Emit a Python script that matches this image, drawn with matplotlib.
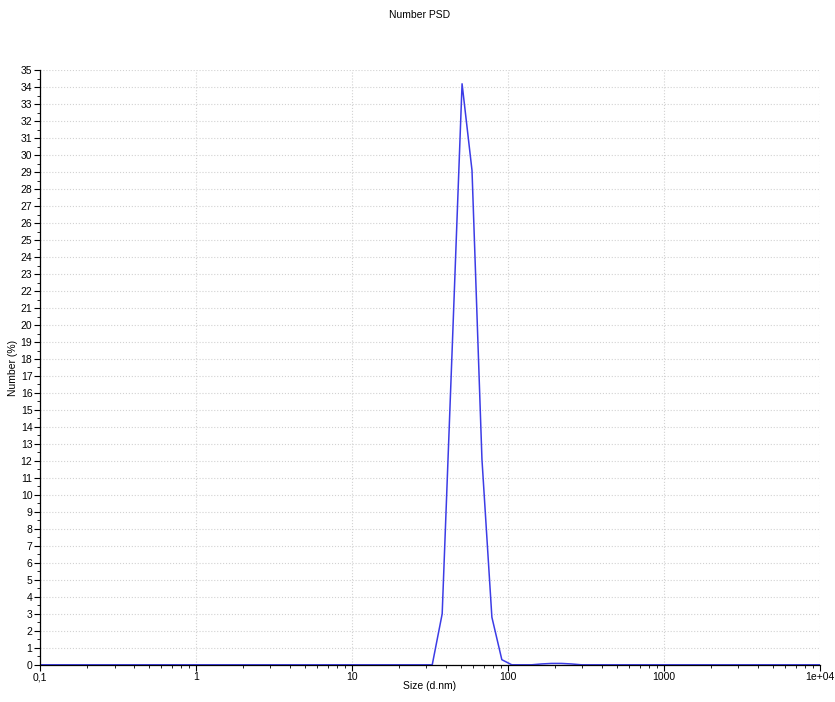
import numpy as np
import matplotlib
matplotlib.use("Agg")
import matplotlib.pyplot as plt
from matplotlib.ticker import FixedLocator, LogLocator, NullFormatter

plt.rcParams['font.family'] = ['Liberation Sans', 'DejaVu Sans']

# Size bins (d.nm) and number distribution (%)
sizes = [0.1, 30.0, 32.67, 37.84, 43.82, 50.75, 58.77, 68.06, 78.82, 91.28, 105.7,
         122.4, 141.8, 164.2, 190.1, 220.2, 255.0, 295.3, 10000.0]
number = [0.0, 0.0, 0.0, 3.0, 18.5, 34.2, 29.1, 12.1, 2.8, 0.3, 0.0,
          0.0, 0.0, 0.05, 0.08, 0.08, 0.05, 0.0, 0.0]

xticks = [0.1, 1, 10, 100, 1000, 10000]
xticklabels = ['0,1', '1', '10', '100', '1000', '1e+04']
yticks = list(range(0, 36))

fig = plt.figure(figsize=(8.35, 7.02), dpi=100)
ax = fig.add_axes([0.048, 0.053, 0.934, 0.847])

ax.plot(sizes, number, color='#3c3ce6', linewidth=1.1)

ax.set_xscale('log')
ax.set_xlim(0.1, 10000)
ax.set_ylim(0, 35)
ax.set_xticks(xticks)
ax.set_xticklabels(xticklabels)
ax.xaxis.set_minor_locator(LogLocator(base=10, subs=np.arange(2, 10)))
ax.xaxis.set_minor_formatter(NullFormatter())
ax.set_yticks(yticks)
ax.yaxis.set_minor_locator(FixedLocator(np.arange(0.5, 35, 1.0)))

ax.tick_params(axis='both', which='major', direction='out', length=4, width=0.8, labelsize=7.5, pad=1.5)
ax.tick_params(axis='both', which='minor', direction='out', length=2, width=0.6)

ax.grid(True, which='major', linestyle=':', color='#d2d2d2', linewidth=0.8)
for s in ['top', 'right']:
    ax.spines[s].set_visible(False)
ax.spines['left'].set_linewidth(0.9)
ax.spines['bottom'].set_linewidth(0.9)

ax.set_xlabel('Size (d.nm)', fontsize=7.5, labelpad=-1)
ax.set_ylabel('Number (%)', fontsize=7.5, labelpad=2)
fig.text(0.503, 0.978, 'Number PSD', ha='center', va='center', fontsize=7.5)

fig.savefig('out.png', dpi=100)
